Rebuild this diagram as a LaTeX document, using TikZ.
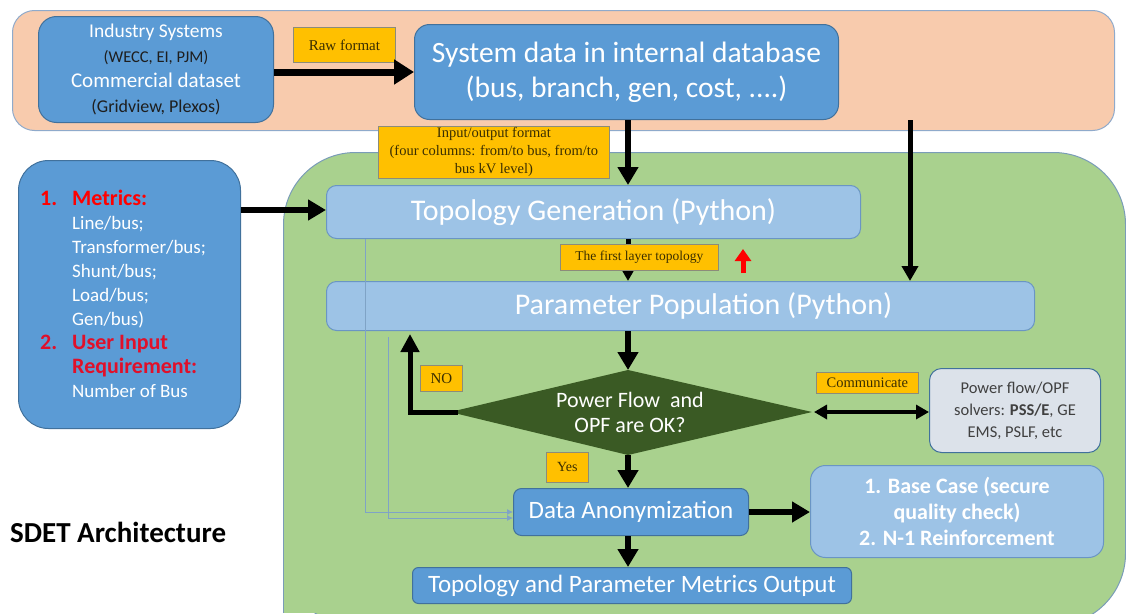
\documentclass[tikz,border=0pt]{standalone}
\usepackage{fontspec}
\setmainfont{Carlito}
\newfontfamily\tnr{Liberation Serif}
\usetikzlibrary{arrows.meta,calc}
\definecolor{peach}{HTML}{F8CBAD}
\definecolor{peachedge}{HTML}{8FAACB}
\definecolor{bluefill}{HTML}{5B9BD5}
\definecolor{blueedge}{HTML}{41719C}
\definecolor{lightblue}{HTML}{9DC3E6}
\definecolor{lightedge}{HTML}{6A95C4}
\definecolor{greenbg}{HTML}{A9D18E}
\definecolor{greenedge}{HTML}{7A9CB8}
\definecolor{gold}{HTML}{FFC000}
\definecolor{goldedge}{HTML}{8C8C7A}
\definecolor{darkgreen}{HTML}{3A5A24}
\definecolor{greybox}{HTML}{DCE2EA}
\definecolor{thinblue}{HTML}{7FA3C6}
\definecolor{txtdark}{HTML}{1E1E1E}
\definecolor{lbltxt}{HTML}{3A2E00}
\definecolor{reddish}{HTML}{E0102A}
\tikzset{
  bluebx/.style={draw=blueedge, fill=bluefill, line width=1pt, inner sep=0pt, text=white, anchor=north west},
  lightbx/.style={draw=lightedge, fill=lightblue, line width=1pt, inner sep=0pt, text=white, anchor=north west},
  tag/.style={draw=goldedge, fill=gold, line width=0.8pt, inner sep=0pt, text=lbltxt, anchor=north west, align=center},
  fat/.style={line width=6pt, -{Triangle[length=18pt,width=20pt]}},
  mid/.style={line width=5pt, -{Triangle[length=15pt,width=16pt]}},
  thin/.style={draw=thinblue, line width=0.8pt, -{Latex[length=6pt,width=6pt]}},
}
\begin{document}
\begin{tikzpicture}[x=1pt,y=-1pt]
\useasboundingbox (0,0) rectangle (1126,613);
\begin{scope}
\clip (0,0) rectangle (1126,613);
% background panels
\node[draw=peachedge, fill=peach, line width=1pt, rounded corners=22pt, minimum width=1102pt, minimum height=120pt, inner sep=0pt, anchor=north west] (peachbg) at (12,10) {};
\node[draw=greenedge, fill=greenbg, line width=1pt, rounded corners=72pt, minimum width=842pt, minimum height=473pt, inner sep=0pt, anchor=north west] (greenbg) at (283,152) {};
\fill[greenbg] (283.5,450) rectangle (700,613);
\draw[greenedge, line width=1pt] (283,450) -- (283,613);
\end{scope}
\coordinate (spine) at (628,0);
\coordinate (rside) at (910,0);
% top row
\node[bluebx, rounded corners=18pt, minimum width=235pt, minimum height=106pt, align=center, font=\fontsize{19.5pt}{25pt}\selectfont] (ind) at (38,16)
 {Industry Systems\\{\color{txtdark}\fontsize{16.5pt}{25pt}\selectfont (WECC, EI, PJM)}\\{\fontsize{21pt}{25pt}\selectfont Commercial dataset}\\{\color{txtdark}\fontsize{18pt}{25pt}\selectfont (Gridview, Plexos)}};
\node[tag, minimum width=102pt, minimum height=35pt, font=\tnr\fontsize{15pt}{17pt}\selectfont] (raw) at (293,27) {Raw format};
\node[bluebx, rounded corners=15pt, minimum width=424pt, minimum height=95pt, align=center, font=\fontsize{29.5pt}{35pt}\selectfont] (sys) at (414,24)
 {System data in internal database\\(bus, branch, gen, cost, ....)};
% left metrics box
\node[bluebx, rounded corners=30pt, minimum width=222pt, minimum height=268pt] (met) at (18,160) {};
\node[anchor=north west, inner sep=0pt, align=left, text=white, font=\fontsize{19pt}{24pt}\selectfont] (mettext) at (40,190)
 {\textcolor{red}{\bfseries\fontsize{22pt}{24pt}\selectfont\makebox[32pt][l]{1.}Metrics:}\\
  \hspace*{32pt}Line/bus;\\
  \hspace*{32pt}Transformer/bus;\\
  \hspace*{32pt}Shunt/bus;\\
  \hspace*{32pt}Load/bus;\\
  \hspace*{32pt}Gen/bus)\\
  \textcolor{reddish}{\bfseries\fontsize{22pt}{26pt}\selectfont\makebox[32pt][l]{2.}User Input}\\
  \hspace*{32pt}\textcolor{reddish}{\bfseries\fontsize{22pt}{25pt}\selectfont Requirement:}\\
  \hspace*{32pt}Number of Bus};
% main flow
\node[lightbx, rounded corners=10pt, minimum width=534pt, minimum height=53pt, font=\fontsize{30pt}{32pt}\selectfont] (topo) at (326,185) {Topology Generation (Python)};
\node[lightbx, rounded corners=10pt, minimum width=708pt, minimum height=49pt, font=\fontsize{30pt}{32pt}\selectfont] (param) at (326,281) {\hspace*{46pt}Parameter Population (Python)};
\coordinate (dl) at (450,412);
\coordinate (dt) at (628,370);
\coordinate (dr) at (812,412);
\coordinate (db) at (628,455);
\fill[darkgreen] (dl) -- (dt) -- (dr) -- (db) -- cycle;
\node[text=white, align=center, font=\fontsize{22pt}{25pt}\selectfont] (dtext) at (630,412) {Power Flow\ \ and\\OPF are OK?};
\node[draw=blueedge, fill=greybox, line width=1pt, rounded corners=12pt, inner sep=0pt, anchor=north west, minimum width=171pt, minimum height=84pt, align=center, text=black!75, font=\fontsize{16.5pt}{22pt}\selectfont] (pf) at (929,368)
 {Power flow/OPF\\solvers: \textbf{PSS/E}, GE\\EMS, PSLF, etc};
\node[bluebx, rounded corners=8pt, minimum width=235pt, minimum height=47pt, font=\fontsize{25pt}{28pt}\selectfont] (anon) at (513,488) {Data Anonymization};
\node[lightbx, rounded corners=15pt, minimum width=293pt, minimum height=92pt, align=center, font=\bfseries\fontsize{22pt}{26pt}\selectfont] (base) at (810,465)
 {1. Base Case (secure\\quality check)\\2. N-1 Reinforcement};
\node[bluebx, rounded corners=6pt, minimum width=439pt, minimum height=36pt, font=\fontsize{25pt}{28pt}\selectfont] (out) at (412,567) {Topology and Parameter Metrics Output};
\node[anchor=west, inner sep=0pt, font=\bfseries\fontsize{29pt}{32pt}\selectfont, text=black] (title) at (10,532) {SDET Architecture};
% thin feedback lines
\draw[thin] (topo.south -| 365,0) -- (365,512) -- (anon.west |- 0,512);
\draw[thin] (388,337) -- (388,518) -- (anon.west |- 0,518);
% arrows
\draw[line width=7pt, -{Triangle[length=20pt,width=24pt]}] (ind.east |- 0,72) -- (sys.west |- 0,72);
\draw[fat] (met.east |- 0,210) -- (topo.west |- 0,210);
\draw[fat] (sys.south -| spine) -- (topo.north -| spine);
\draw[mid] (sys.south -| rside) -- (param.north -| rside);
\draw[mid] (topo.south -| spine) -- (param.north -| spine);
\draw[fat] (param.south -| spine) -- (dt);
\draw[fat] (db) -- (anon.north -| spine);
\draw[fat] (anon.south -| spine) -- (out.north -| spine);
\draw[fat] (anon.east) -- (base.west |- anon.east);
\draw[line width=5pt, -{Triangle[length=18pt,width=18pt]}] ($(dl)+(8,0)$) -- (410,412) -- (410,334);
\draw[line width=4pt, {Triangle[length=13pt,width=14pt]}-{Triangle[length=13pt,width=14pt]}] ($(dr)+(2,0)$) -- (pf.west |- dr);
\draw[red, line width=5pt, -{Triangle[length=12pt,width=16pt]}] (743,273) -- (743,249);
% labels
\node[tag, minimum width=231pt, minimum height=52pt, font=\tnr\fontsize{14.5pt}{18pt}\selectfont] (io) at (378,126)
 {Input/output format\\(four columns: from/to bus, from/to\\bus kV level)};
\node[tag, minimum width=158pt, minimum height=26pt, font=\tnr\fontsize{13.5pt}{15pt}\selectfont] (first) at (560,244) {The first layer topology};
\node[tag, minimum width=42pt, minimum height=26pt, font=\tnr\fontsize{15pt}{17pt}\selectfont] (no) at (420,365) {NO};
\node[tag, minimum width=102pt, minimum height=21pt, font=\tnr\fontsize{14.5pt}{16pt}\selectfont] (comm) at (816,372) {Communicate};
\node[tag, minimum width=42pt, minimum height=30pt, font=\tnr\fontsize{14pt}{16pt}\selectfont] (yes) at (546,452) {Yes};
\end{tikzpicture}
\end{document}
